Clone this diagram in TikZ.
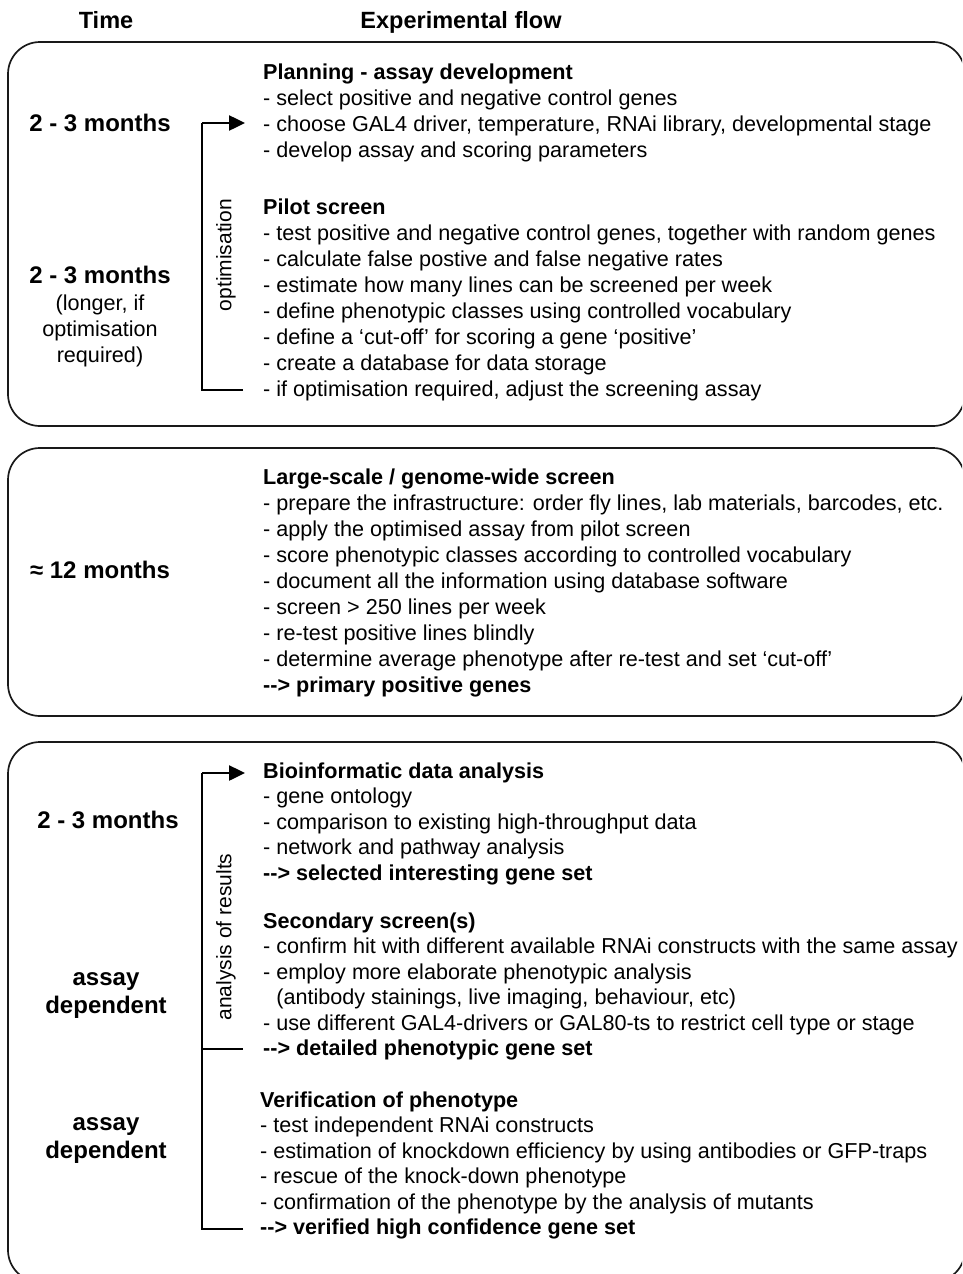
\documentclass[tikz,border=0pt]{standalone}
\usepackage{fontspec}
\setmainfont{Liberation Sans}
\usetikzlibrary{arrows.meta}
\newcommand{\firststrut}{\rule{0pt}{20pt}}
\begin{document}
\begin{tikzpicture}[x=1pt,y=-1pt,
  panel/.style={draw=black!90, line width=1.7pt, rounded corners=32pt},
  blk/.style={anchor=north west, inner sep=0pt, align=left, font=\fontsize{21.6}{26}\selectfont},
  blkc/.style={anchor=north west, inner sep=0pt, align=left, font=\fontsize{21.6}{25.5}\selectfont},
  head/.style={inner sep=0pt, font=\fontsize{23.5}{28}\selectfont\bfseries},
  timel/.style={inner sep=0pt, align=center, font=\fontsize{24}{28}\selectfont\bfseries},
  note/.style={inner sep=0pt, align=center, font=\fontsize{21.6}{26}\selectfont},
  side/.style={inner sep=0pt, rotate=90, font=\fontsize{21}{25}\selectfont},
  bracket/.style={line width=2.5pt, black},
  tip/.style={-{Triangle[length=16pt,width=15pt]}}
]
\useasboundingbox (0,0) rectangle (962,1274);
\clip (0,0) rectangle (962,1274);

% headers
\node[head] (htime) at (106,20) {Time};
\node[head, anchor=base] (hflow) at (461,28) {Experimental flow};

% panels
\draw[panel] (8,42) rectangle (965,426);
\draw[panel] (8,448) rectangle (965,716);
\draw[panel] (8,742) rectangle (965,1282);

% ---- panel 1 ----
\node[timel] (t1) at (100,123) {2 - 3 months};
\node[timel] (t2) at (100,275) {2 - 3 months};
\node[note] (t2n) at (100,331) {(longer, if\\optimisation\\required)};

\node[blk] (plan) at (263,59) {\firststrut\textbf{Planning - assay development}\\
- select positive and negative control genes\\
- choose GAL4 driver, temperature, RNAi library, developmental stage\\
- develop assay and scoring parameters};

\node[blk] (pilot) at (263,194) {\firststrut\textbf{Pilot screen}\\
- test positive and negative control genes, together with random genes\\
- calculate false postive and false negative rates\\
- estimate how many lines can be screened per week\\
- define phenotypic classes using controlled vocabulary\\
- define a ‘cut-off’ for scoring a gene ‘positive’\\
- create a database for data storage\\
- if optimisation required, adjust the screening assay};

\coordinate (o1) at (202,123);
\coordinate (o1e) at (245,123);
\coordinate (o2) at (202,390);
\coordinate (o2e) at (243,390);
\draw[bracket] (o2e) -- (o2) -- (o1);
\draw[bracket, tip] (o1) -- (o1e);
\node[side] (opt) at (226,255) {optimisation};

% ---- panel 2 ----
\node[timel] (t3) at (100,570) {≈ 12 months};
\node[blk] (large) at (263,464) {\firststrut\textbf{Large-scale / genome-wide screen}\\
- prepare the infrastructure: order fly lines, lab materials, barcodes, etc.\\
- apply the optimised assay from pilot screen\\
- score phenotypic classes according to controlled vocabulary\\
- document all the information using database software\\
- screen > 250 lines per week\\
- re-test positive lines blindly\\
- determine average phenotype after re-test and set ‘cut-off’\\
\textbf{-{}-> primary positive genes}};

% ---- panel 3 ----
\node[timel] (t4) at (108,820) {2 - 3 months};
\node[timel] (t5) at (106,996) {assay\\dependent};
\node[timel] (t6) at (106,1141) {assay\\dependent};

\node[blkc] (bio) at (263,758) {\firststrut\textbf{Bioinformatic data analysis}\\
- gene ontology\\
- comparison to existing high-throughput data\\
- network and pathway analysis\\
\textbf{-{}-> selected interesting gene set}};

\node[blkc] (sec) at (263,908) {\firststrut\textbf{Secondary screen(s)}\\
- confirm hit with different available RNAi constructs with the same assay\\
- employ more elaborate phenotypic analysis\\
\phantom{- }(antibody stainings, live imaging, behaviour, etc)\\
- use different GAL4-drivers or GAL80-ts to restrict cell type or stage\\
\textbf{-{}-> detailed phenotypic gene set}};

\node[blkc] (ver) at (260,1087) {\firststrut\textbf{Verification of phenotype}\\
- test independent RNAi constructs\\
- estimation of knockdown efficiency by using antibodies or GFP-traps\\
- rescue of the knock-down phenotype\\
- confirmation of the phenotype by the analysis of mutants\\
\textbf{-{}-> verified high confidence gene set}};

\coordinate (a1) at (202,773);
\coordinate (a1e) at (245,773);
\coordinate (a2) at (202,1049);
\coordinate (a2e) at (243,1049);
\coordinate (a3) at (202,1229);
\coordinate (a3e) at (243,1229);
\draw[bracket] (a3e) -- (a3) -- (a1);
\draw[bracket] (a2) -- (a2e);
\draw[bracket, tip] (a1) -- (a1e);
\node[side] (ana) at (226,937) {analysis of results};
\end{tikzpicture}
\end{document}
